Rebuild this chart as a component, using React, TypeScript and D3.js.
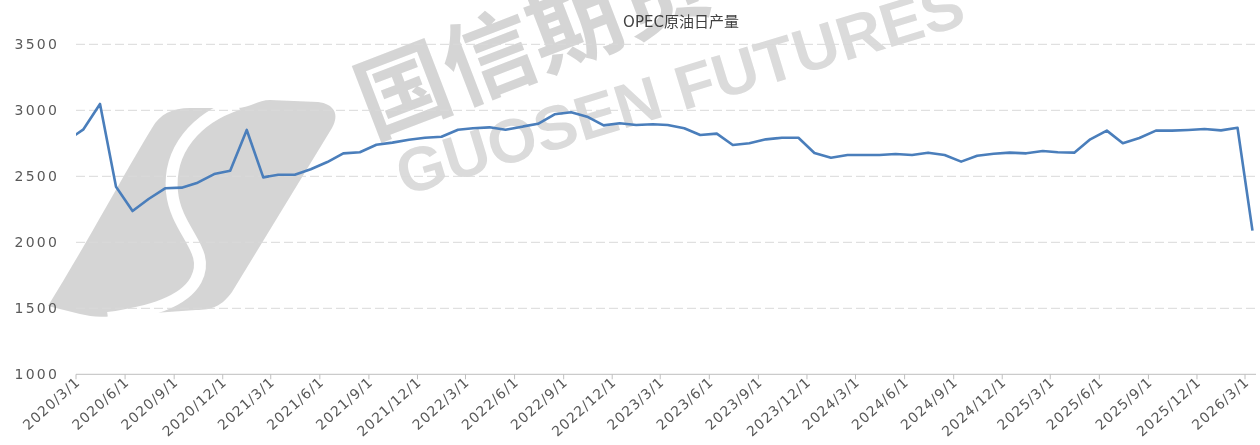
import React from "react";
import * as d3 from "d3";

const TITLE = "OPEC原油日产量";
const START_MONTH = "2020-02";
const values: number[] = [
  2775, 2856, 3048, 2421, 2237, 2328, 2409, 2414, 2452, 2517, 2542,
  2851, 2492, 2512, 2512, 2553, 2608, 2674, 2682, 2739, 2755, 2777, 2792,
  2800, 2853, 2864, 2871, 2853, 2876, 2898, 2970, 2985, 2952, 2886, 2902,
  2889, 2894, 2889, 2864, 2813, 2823, 2737, 2750, 2780, 2792, 2792, 2677,
  2641, 2661, 2661, 2661, 2669, 2661, 2679, 2661, 2611, 2656, 2671, 2679,
  2674, 2692, 2682, 2679, 2780, 2846, 2750, 2790, 2846, 2846, 2851, 2858,
  2848, 2868, 2088,
];
const yTicks = [1000, 1500, 2000, 2500, 3000, 3500];
const axisStart = new Date(2020, 2, 1);
const axisEnd = new Date(2026, 2, 1);

const W = 1260;
const H = 445;
const M = { left: 76, right: 1245, top: 44.3, bottom: 374.3 };

export default function App() {
  const [sy, sm] = START_MONTH.split("-").map(Number);
  const dates = values.map((_, i) => new Date(sy, sm - 1 + i, 15));
  const data = values.map((v, i) => ({ d: dates[i], v }));

  const x = d3.scaleTime().domain([axisStart, axisEnd]).range([M.left, M.right]);
  const y = d3.scaleLinear().domain([1000, 3500]).range([M.bottom, M.top]);
  const xTicks = d3.timeMonth.range(axisStart, d3.timeDay.offset(axisEnd, 1), 3);

  const line = d3
    .line<{ d: Date; v: number }>()
    .x((p) => x(p.d))
    .y((p) => y(p.v));

  const gridRight = 1256;
  const font = "'DejaVu Sans', 'Noto Sans CJK SC', sans-serif";
  const wm = "#cbcbcb";

  return (
    <svg
      width={W}
      height={H}
      style={{ position: "absolute", left: 0, top: 0, background: "#fff" }}
    >
      <defs>
        <clipPath id="plotClip">
          <rect x={M.left} y={0} width={W - M.left} height={H} />
        </clipPath>
      </defs>
      <rect x={0} y={0} width={W} height={H} fill="#fff" />

      {/* watermark */}
      <g opacity={0.8}>
        <path
          d="M48,306 C90,238 125,172 152,128 C160,114 172,108 190,108 L236,108 C250,108 258,100 270,100 L318,102 C334,104 340,114 332,128 L232,292 C222,306 212,310 196,310 L112,316 C98,318 90,316 80,314 Z"
          fill={wm}
        />
        <path
          d="M238,104 C196,118 168,150 172,192 C176,232 212,250 196,280 C184,302 150,312 108,318"
          fill="none"
          stroke="#fff"
          strokeWidth={12}
        />
        <text
          x={0}
          y={0}
          transform="translate(372,138) rotate(-21)"
          fontSize={92}
          fontWeight="bold"
          fill={wm}
          fontFamily="'Noto Sans CJK SC', sans-serif"
        >
          国信期货
        </text>
        <text
          x={0}
          y={0}
          transform="translate(404,196) rotate(-17)"
          fontSize={62}
          fontWeight="bold"
          fill="#d2d2d2"
          fontFamily="'Liberation Sans', Arial, sans-serif"
          textLength={590}
          lengthAdjust="spacingAndGlyphs"
        >
          GUOSEN FUTURES
        </text>
      </g>

      <text
        x={681}
        y={27}
        textAnchor="middle"
        fontSize={15}
        fill="#404040"
        fontFamily={font}
      >
        {TITLE}
      </text>

      {/* gridlines */}
      {yTicks
        .filter((t) => t !== 1000)
        .map((t) => (
          <line
            key={t}
            x1={M.left}
            x2={gridRight}
            y1={y(t)}
            y2={y(t)}
            stroke="#d9d9d9"
            strokeWidth={1}
            strokeDasharray="9,4"
          />
        ))}

      {/* y labels */}
      {yTicks.map((t) => (
        <text
          key={t}
          x={59}
          y={y(t) + 5}
          textAnchor="end"
          fontSize={14}
          fill="#595959"
          fontFamily={font}
          letterSpacing={2.2}
        >
          {t}
        </text>
      ))}

      {/* x axis */}
      <line x1={M.left} x2={gridRight} y1={M.bottom} y2={M.bottom} stroke="#bfbfbf" strokeWidth={1} />
      {xTicks.map((t, i) => (
        <line
          key={"t" + i}
          x1={x(t)}
          x2={x(t)}
          y1={M.bottom}
          y2={M.bottom + 5}
          stroke="#bfbfbf"
          strokeWidth={1}
        />
      ))}
      {xTicks.map((t, i) => (
        <text
          key={"l" + i}
          x={0}
          y={0}
          transform={`translate(${x(t) + 5},${M.bottom + 9}) rotate(-42)`}
          textAnchor="end"
          fontSize={14}
          fill="#595959"
          fontFamily={font}
          letterSpacing={1}
        >
          {`${t.getFullYear()}/${t.getMonth() + 1}/1`}
        </text>
      ))}

      <g clipPath="url(#plotClip)">
        <path
          d={line(data) || ""}
          fill="none"
          stroke="#4a7ebb"
          strokeWidth={2.6}
          strokeLinejoin="round"
        />
      </g>
    </svg>
  );
}
